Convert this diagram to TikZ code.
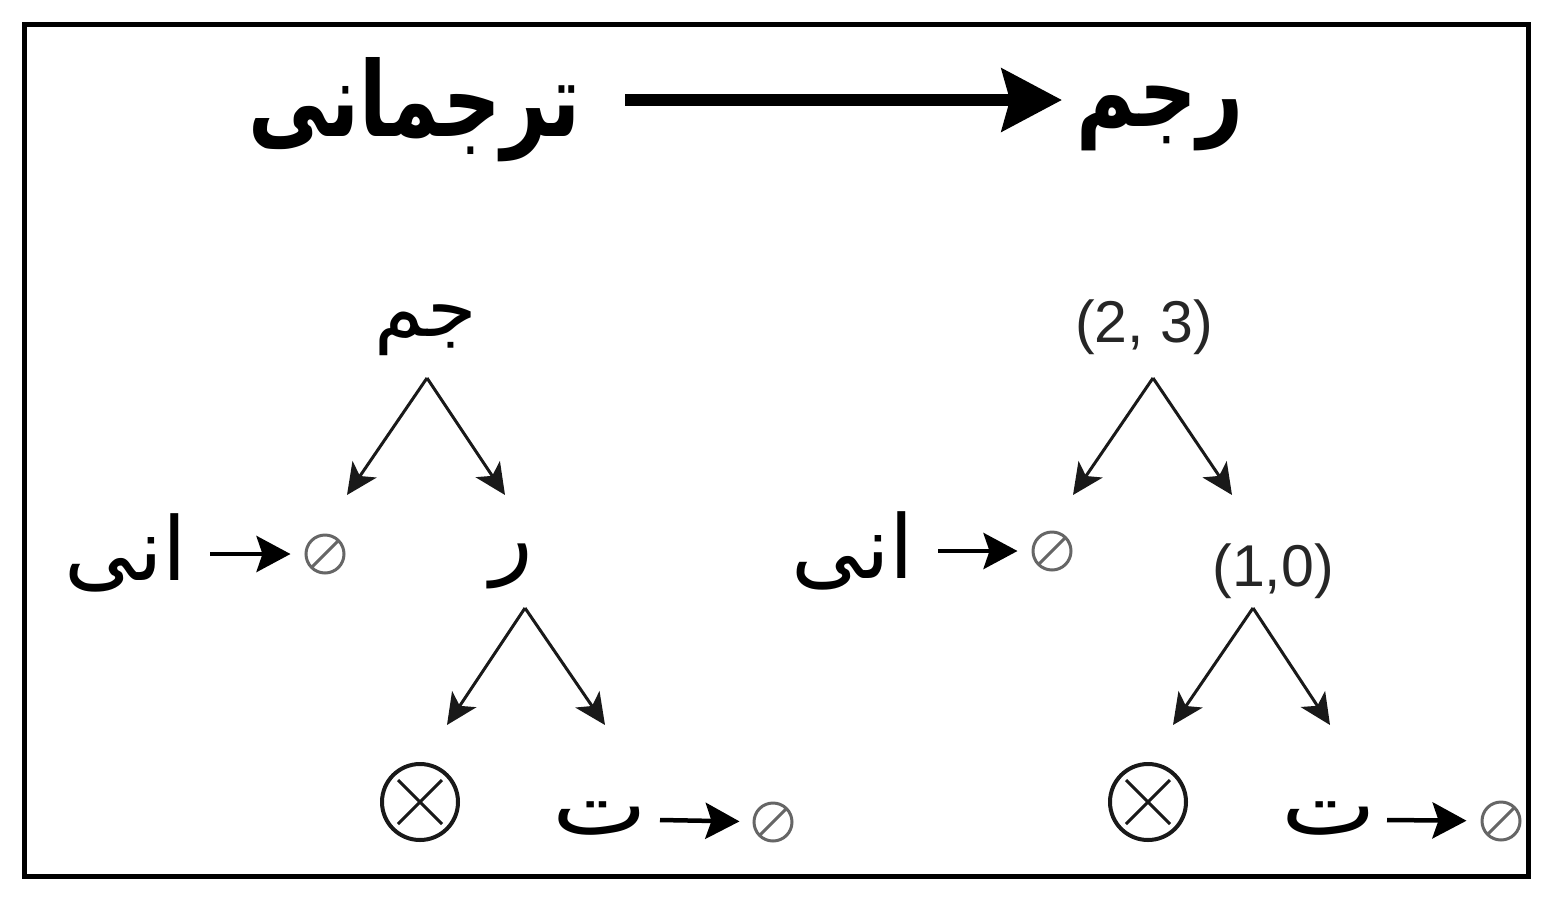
\documentclass[tikz,border=0pt]{standalone}
\usepackage{fontspec}
\setmainfont{Liberation Sans}
\newfontfamily\arabicfont[Script=Arabic]{DejaVu Sans}
\TeXXeTstate=1
\usetikzlibrary{arrows.meta}
\tikzset{
  ar/.style={font=\arabicfont\fontsize{88}{100}\selectfont, inner sep=0pt},
  arjm/.style={font=\arabicfont\fontsize{80}{96}\selectfont, inner sep=0pt},
  arte/.style={font=\arabicfont\fontsize{84}{96}\selectfont, inner sep=0pt},
  artitle/.style={font=\arabicfont\bfseries\fontsize{80}{96}\selectfont, inner sep=0pt},
  num/.style={font=\fontsize{59}{70}\selectfont, text=black!85, inner sep=0pt},
  treearrow/.style={line width=3pt, draw=black!90, -{Stealth[length=31pt,width=29pt,inset=8pt]}},
  harrow/.style={line width=4.5pt, -{Stealth[length=34pt,width=36pt,inset=6pt]}},
  titlearrow/.style={line width=12pt, -{Stealth[length=60pt,width=62pt,inset=8pt]}},
  nullset/.style={circle, draw=black!60, line width=3pt, minimum size=38pt, inner sep=0pt,
    path picture={\draw[black!60, line width=3pt] (path picture bounding box.south west) -- (path picture bounding box.north east);}},
  otimesnode/.style={circle, draw=black!90, line width=4pt, minimum size=76pt, inner sep=0pt,
    path picture={\draw[black!90, line width=3pt] ([shift={(-22pt,-22pt)}]path picture bounding box.center) -- ([shift={(22pt,22pt)}]path picture bounding box.center)
       ([shift={(-22pt,22pt)}]path picture bounding box.center) -- ([shift={(22pt,-22pt)}]path picture bounding box.center);}},
}
\begin{document}
\begin{tikzpicture}[x=1pt,y=-1pt]
\useasboundingbox (0,0) rectangle (1559,903);
\fill[white] (0,0) rectangle (1559,903);
\draw[line width=5pt] (24,24) rectangle (1528,876);

% title
\node[artitle] (tleft) at (415,110) {\scalebox{1}[1.3]{\beginR ترجمانی\endR}};
\node[artitle] (tright) at (1160,118) {\scalebox{1}[1.25]{\beginR رجم\endR}};
\coordinate (tas) at (625,100);
\coordinate (tae) at (1062,100);
\draw[titlearrow] (tas) -- (tae);

% left tree
\node[arjm] (jm) at (426,330) {\beginR جم\endR};
\coordinate (lapex) at (427,378);
\coordinate (ltipl) at (347,495);
\coordinate (ltipr) at (505,495);
\draw[treearrow] (lapex) -- (ltipl);
\draw[treearrow] (lapex) -- (ltipr);

\node[ar] (aniL) at (126,553) {\beginR انی\endR};
\coordinate (aniLs) at (210,554);
\node[nullset] (nL1) at (325,554) {};
\draw[harrow, shorten >=14pt] (aniLs) -- (nL1);

\node[ar] (ra) at (512,566) {\beginR ر\endR};
\coordinate (lapex2) at (525,608);
\coordinate (ltipl2) at (447,725);
\coordinate (ltipr2) at (605,725);
\draw[treearrow] (lapex2) -- (ltipl2);
\draw[treearrow] (lapex2) -- (ltipr2);

\node[otimesnode] (oxL) at (420,802) {};
\node[arte] (teL) at (600,818) {\scalebox{1.2}[1]{\beginR ت\endR}};
\coordinate (teLs) at (660,820);
\node[nullset] (nL2) at (773,822) {};
\draw[harrow, shorten >=13pt] (teLs) -- (nL2);

% right tree
\node[num] (p23) at (1144,327) {(2, 3)};
\coordinate (rapex) at (1153,378);
\coordinate (rtipl) at (1073,495);
\coordinate (rtipr) at (1232,495);
\draw[treearrow] (rapex) -- (rtipl);
\draw[treearrow] (rapex) -- (rtipr);

\node[ar] (aniR) at (853,551) {\beginR انی\endR};
\coordinate (aniRs) at (938,551);
\node[nullset] (nR1) at (1052,551) {};
\draw[harrow, shorten >=14pt] (aniRs) -- (nR1);

\node[num] (p10) at (1273,571) {(1,0)};
\coordinate (rapex2) at (1253,608);
\coordinate (rtipl2) at (1173,725);
\coordinate (rtipr2) at (1330,725);
\draw[treearrow] (rapex2) -- (rtipl2);
\draw[treearrow] (rapex2) -- (rtipr2);

\node[otimesnode] (oxR) at (1148,802) {};
\node[arte] (teR) at (1329,818) {\scalebox{1.2}[1]{\beginR ت\endR}};
\coordinate (teRs) at (1387,820);
\node[nullset] (nR2) at (1501,821) {};
\draw[harrow, shorten >=14pt] (teRs) -- (nR2);
\end{tikzpicture}
\end{document}
